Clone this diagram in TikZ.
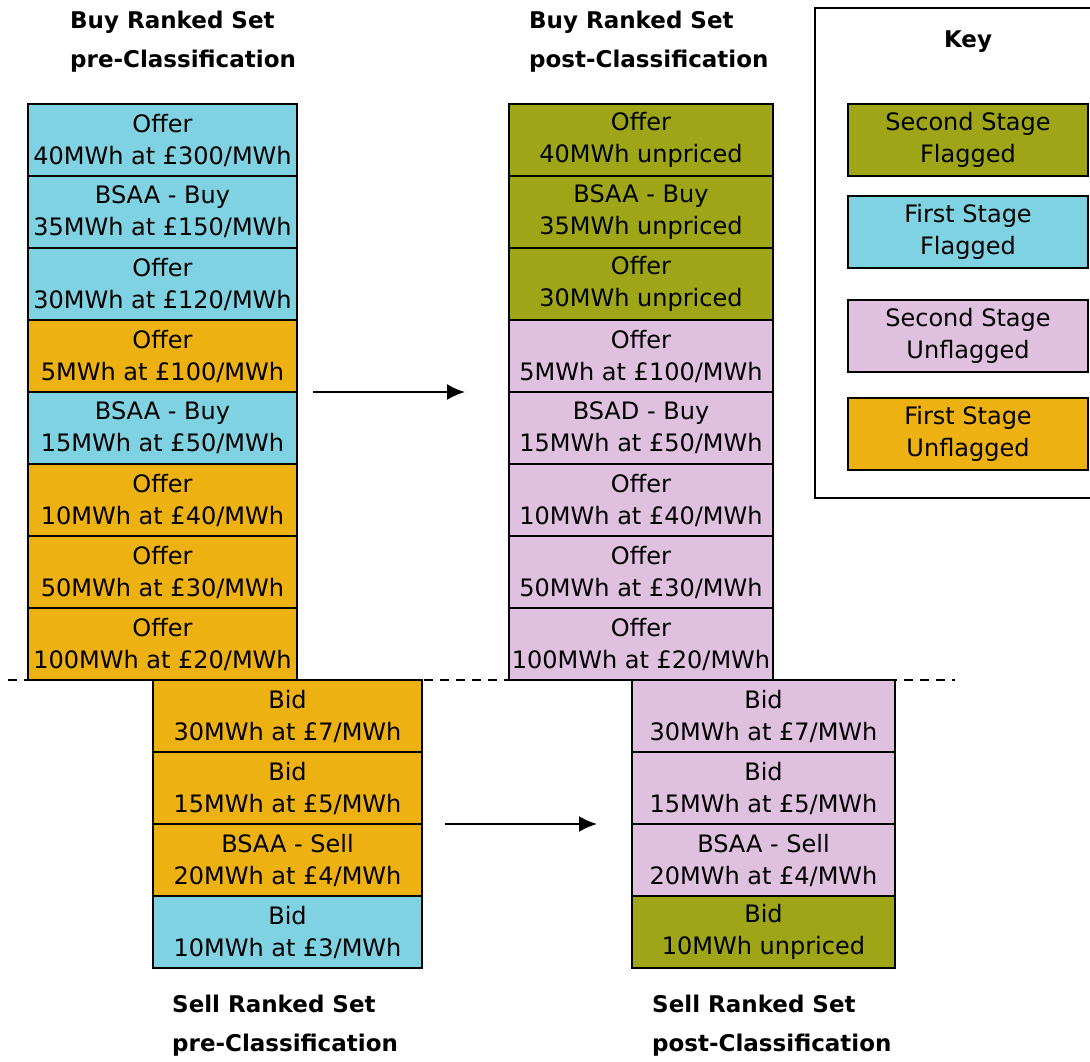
\documentclass[tikz,border=0pt]{standalone}
\usepackage{fontspec}
\setmainfont{DejaVu Sans}
\usetikzlibrary{arrows.meta,positioning}
\definecolor{flagcyan}{HTML}{7ED2E1}
\definecolor{unflagorange}{HTML}{EEB112}
\definecolor{flagolive}{HTML}{9EA617}
\definecolor{unflagpink}{HTML}{E0C0DF}
\tikzset{
  cell/.style={draw,line width=2.2pt,outer sep=0pt,minimum height=72pt,inner sep=0pt,align=center,font=\fontsize{24}{32}\selectfont},
  firstflag/.style={cell,fill=flagcyan},
  firstunflag/.style={cell,fill=unflagorange},
  secondflag/.style={cell,fill=flagolive},
  secondunflag/.style={cell,fill=unflagpink},
  settitle/.style={anchor=west,align=left,inner sep=0pt,font=\fontsize{23}{39}\selectfont\bfseries},
  flow/.style={-{Latex[length=18pt,width=16pt]},line width=2pt},
}
\begin{document}
\begin{tikzpicture}[x=1pt,y=-1pt]
\useasboundingbox (0,0) rectangle (1090,1061);
% titles
\node[settitle] (tbpre) at (70,42) {Buy Ranked Set\\pre-Classification};
\node[settitle] (tbpost) at (529,42) {Buy Ranked Set\\post-Classification};
\node[settitle] (tspre) at (172,1026) {Sell Ranked Set\\pre-Classification};
\node[settitle] (tspost) at (652,1026) {Sell Ranked Set\\post-Classification};
% buy set, pre
\begin{scope}[every node/.append style={minimum width=269pt}]
\node[firstflag] (b1) at (162.5,140) {Offer\\40MWh at £300/MWh};
\node[firstflag,below=0pt of b1] (b2) {BSAA - Buy\\35MWh at £150/MWh};
\node[firstflag,below=0pt of b2] (b3) {Offer\\30MWh at £120/MWh};
\node[firstunflag,below=0pt of b3] (b4) {Offer\\5MWh at £100/MWh};
\node[firstflag,below=0pt of b4] (b5) {BSAA - Buy\\15MWh at £50/MWh};
\node[firstunflag,below=0pt of b5] (b6) {Offer\\10MWh at £40/MWh};
\node[firstunflag,below=0pt of b6] (b7) {Offer\\50MWh at £30/MWh};
\node[firstunflag,below=0pt of b7] (b8) {Offer\\100MWh at £20/MWh};
\end{scope}
% buy set, post
\begin{scope}[every node/.append style={minimum width=264pt}]
\node[secondflag] (p1) at (641,140) {Offer\\40MWh unpriced};
\node[secondflag,below=0pt of p1] (p2) {BSAA - Buy\\35MWh unpriced};
\node[secondflag,below=0pt of p2] (p3) {Offer\\30MWh unpriced};
\node[secondunflag,below=0pt of p3] (p4) {Offer\\5MWh at £100/MWh};
\node[secondunflag,below=0pt of p4] (p5) {BSAD - Buy\\15MWh at £50/MWh};
\node[secondunflag,below=0pt of p5] (p6) {Offer\\10MWh at £40/MWh};
\node[secondunflag,below=0pt of p6] (p7) {Offer\\50MWh at £30/MWh};
\node[secondunflag,below=0pt of p7] (p8) {Offer\\100MWh at £20/MWh};
\end{scope}
% sell set, pre
\begin{scope}[every node/.append style={minimum width=269pt}]
\node[firstunflag] (s1) at (287.5,716) {Bid\\30MWh at £7/MWh};
\node[firstunflag,below=0pt of s1] (s2) {Bid\\15MWh at £5/MWh};
\node[firstunflag,below=0pt of s2] (s3) {BSAA - Sell\\20MWh at £4/MWh};
\node[firstflag,below=0pt of s3] (s4) {Bid\\10MWh at £3/MWh};
\end{scope}
% sell set, post
\begin{scope}[every node/.append style={minimum width=263pt}]
\node[secondunflag] (q1) at (763.5,716) {Bid\\30MWh at £7/MWh};
\node[secondunflag,below=0pt of q1] (q2) {Bid\\15MWh at £5/MWh};
\node[secondunflag,below=0pt of q2] (q3) {BSAA - Sell\\20MWh at £4/MWh};
\node[secondflag,below=0pt of q3] (q4) {Bid\\10MWh unpriced};
\end{scope}
% buy/sell split
\draw[line width=1.4pt,dash pattern=on 9pt off 7pt] ([xshift=-20pt]b8.south west) -- ([xshift=60pt]q1.north east);
% classification arrows
\draw[flow,shorten <=16pt,shorten >=44pt] (b4.south east) -- (p4.south west);
\draw[flow,shorten <=23pt,shorten >=35pt] (s2.south east) -- (q2.south west);
% key
\draw[line width=1.5pt] (815,8) rectangle (1096,498);
\node[font=\fontsize{23}{26}\selectfont\bfseries] (key) at (968,42) {Key};
\begin{scope}[every node/.append style={minimum width=240pt}]
\node[secondflag] (k1) at (968,140) {Second Stage\\Flagged};
\node[firstflag] (k2) at (968,232) {First Stage\\Flagged};
\node[secondunflag] (k3) at (968,336) {Second Stage\\Unflagged};
\node[firstunflag] (k4) at (968,434) {First Stage\\Unflagged};
\end{scope}
\end{tikzpicture}
\end{document}
